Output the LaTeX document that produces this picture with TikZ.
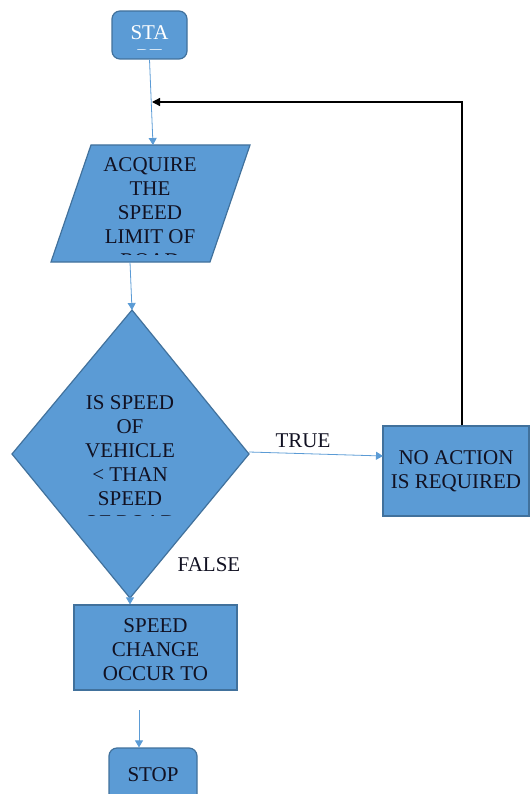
\documentclass[tikz,border=0pt]{standalone}
\usepackage{fontspec}
\setmainfont{Liberation Serif}
\newfontfamily\tmsfont{Liberation Serif}
\usetikzlibrary{arrows.meta}
\definecolor{boxblue}{HTML}{5B9BD5}
\definecolor{boxedge}{HTML}{41719C}
\definecolor{ink}{HTML}{111122}
\begin{document}
\begin{tikzpicture}[x=1pt,y=-1pt,
  shapefill/.style={fill=boxblue, draw=boxedge, line width=1.2pt},
  lbl/.style={font=\tmsfont\fontsize{21}{24}\selectfont, text=ink, align=center, inner sep=0pt},
  flow/.style={draw=boxblue, line width=0.8pt, -{Triangle[length=7pt,width=8pt]}},
  back/.style={draw=black, line width=1.3pt, -{Triangle[length=8pt,width=8pt]}},
]
\useasboundingbox (0,0) rectangle (531,794);

% START terminal
\node[shapefill, rounded corners=8pt, minimum width=75pt, minimum height=48pt, inner sep=0pt] (start) at (149.5,35) {};
\begin{scope}
  \clip (112,11) rectangle (187,49.5);
  \node[lbl, text=white] (starttext) at (149.5,45) {STA\\RT};
\end{scope}

% input parallelogram
\draw[shapefill] (91,145) -- (250,145) -- (210,262) -- (51,262) -- cycle;
\coordinate (acqtop) at (153,145);
\coordinate (acqbot) at (130,262);
\begin{scope}
  \clip (51,145) rectangle (250,254.5);
  \node[lbl] (acqtext) at (150,213) {ACQUIRE\\THE\\SPEED\\LIMIT OF\\ROAD};
\end{scope}

% decision diamond
\draw[shapefill] (132,310) -- (249,454) -- (130,598) -- (12,454) -- cycle;
\coordinate (dtop) at (132,310);
\coordinate (dright) at (249,452);
\coordinate (dbot) at (130,598);
\begin{scope}
  \clip (12,310) rectangle (249,515.5);
  \node[lbl] (dtext) at (130,463) {IS SPEED\\OF\\VEHICLE\\< THAN\\SPEED\\OF ROAD};
\end{scope}

% no action box
\node[shapefill, minimum width=146pt, minimum height=90pt, inner sep=0pt] (noact) at (456,471) {};
\node[lbl] (noacttext) at (456,471) {NO ACTION\\IS REQUIRED};
\coordinate (noactin) at (383,456);

% speed change box
\node[shapefill, minimum width=163pt, minimum height=85pt, inner sep=0pt] (change) at (155.5,647.5) {};
\node[lbl] (changetext) at (155.5,650) {SPEED\\CHANGE\\OCCUR TO};

% stop terminal
\node[shapefill, rounded corners=8pt, minimum width=88pt, minimum height=54pt, inner sep=0pt] (stop) at (153,775) {};
\node[lbl] (stoptext) at (153,775) {STOP};

% labels
\node[lbl] (truelbl) at (303,441) {TRUE};
\node[lbl] (falselbl) at (209,565) {FALSE};

% connectors
\draw[flow] (start.south) -- (acqtop);
\draw[flow] (acqbot) -- (dtop);
\draw[flow] (dright) -- (noactin);
\draw[flow] (dbot) -- (change.north -| dbot);
\coordinate (stopfrom) at (139,710);
\draw[flow] (stopfrom) -- (stop.north -| stopfrom);
\coordinate (loopcorner) at (462,102);
\coordinate (loopend) at (152,102);
\draw[back] (noact.north -| loopcorner) -- (loopcorner) -- (loopend);
\end{tikzpicture}
\end{document}
